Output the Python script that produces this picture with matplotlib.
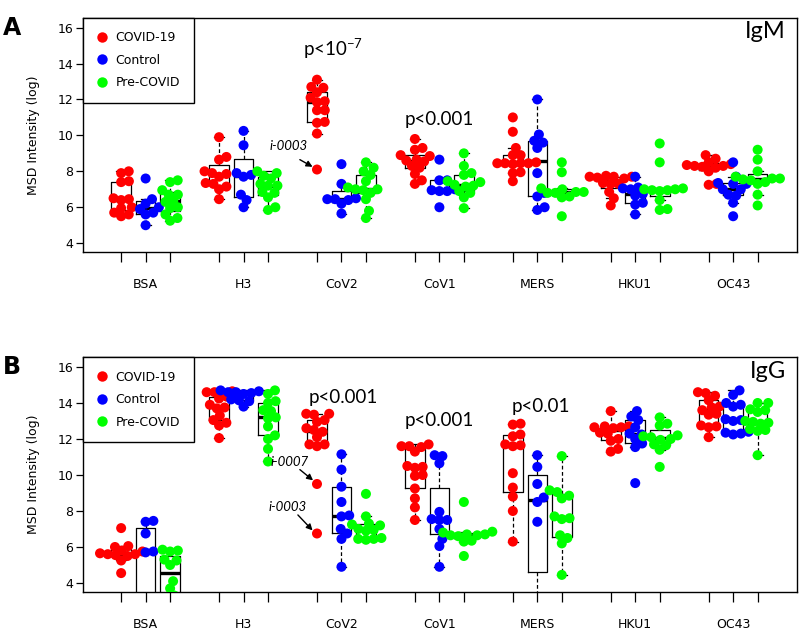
import numpy as np
import matplotlib.pyplot as plt
from matplotlib.lines import Line2D

antigens = ['BSA', 'H3', 'CoV2', 'CoV1', 'MERS', 'HKU1', 'OC43']
groups = ['COVID-19', 'Control', 'Pre-COVID']
colors = ['#ff0000', '#0000ff', '#00ff00']

# IgM values, one list per antigen
igm_covid = [
    [8.0, 7.9, 7.45, 7.4, 6.5, 6.45, 6.4, 6.0, 5.95, 5.7, 5.6, 5.5],
    [9.9, 8.8, 8.65, 8.0, 7.9, 7.85, 7.7, 7.35, 7.3, 7.15, 7.0, 6.45],
    [13.1, 12.7, 12.65, 12.4, 12.1, 11.9, 11.85, 11.4, 11.4, 10.75, 10.7, 10.1, 8.1],
    [9.8, 9.3, 9.2, 8.9, 8.85, 8.65, 8.6, 8.55, 8.3, 8.2, 7.85, 7.5, 7.3],
    [11.0, 10.2, 9.3, 8.9, 8.9, 8.5, 8.45, 8.45, 8.45, 8.45, 8.4, 7.95, 7.9, 7.45],
    [7.75, 7.7, 7.7, 7.7, 7.65, 7.6, 7.35, 7.3, 7.3, 6.85, 6.5, 6.1],
    [8.9, 8.7, 8.5, 8.4, 8.35, 8.3, 8.3, 8.25, 8.2, 8.0, 7.3, 7.25],
]
igm_control = [
    [7.6, 6.45, 6.2, 6.0, 5.9, 5.7, 5.6, 5.0],
    [10.25, 9.45, 7.9, 7.8, 7.7, 6.7, 6.4, 6.0],
    [8.4, 7.3, 6.5, 6.45, 6.45, 6.4, 6.2, 5.65],
    [8.65, 7.5, 7.5, 7.0, 6.95, 6.9, 6.9, 6.0],
    [12.0, 10.05, 9.7, 9.6, 9.3, 7.9, 6.8, 6.6, 6.0, 5.85],
    [7.7, 7.1, 7.05, 7.0, 6.75, 6.65, 6.25, 6.15, 5.6],
    [8.5, 7.7, 7.35, 7.3, 7.3, 7.0, 7.0, 6.7, 6.65, 6.25, 5.5],
]
igm_precovid = [
    [7.5, 7.4, 6.95, 6.7, 6.7, 6.35, 6.3, 6.0, 5.95, 5.6, 5.4, 5.25],
    [8.0, 7.9, 7.75, 7.6, 7.3, 7.2, 7.2, 6.85, 6.8, 6.55, 6.0, 5.85],
    [8.5, 8.2, 8.0, 7.8, 7.45, 7.1, 7.0, 7.0, 6.95, 6.8, 6.45, 5.8, 5.4],
    [9.0, 8.3, 7.9, 7.8, 7.45, 7.4, 7.25, 7.2, 7.15, 6.9, 6.8, 6.55, 5.95],
    [8.5, 7.95, 7.05, 7.0, 6.85, 6.85, 6.8, 6.8, 6.6, 6.55, 5.5],
    [9.55, 8.5, 7.05, 7.0, 7.0, 6.95, 6.95, 6.9, 6.4, 5.9, 5.85],
    [9.2, 8.65, 8.0, 7.7, 7.6, 7.6, 7.55, 7.5, 7.4, 7.3, 6.7, 6.1],
]

# IgG values
igg_covid = [
    [7.05, 6.05, 6.0, 5.8, 5.75, 5.65, 5.6, 5.6, 5.55, 5.5, 5.25, 4.55],
    [14.65, 14.6, 14.6, 14.35, 14.25, 13.9, 13.75, 13.7, 13.3, 13.05, 12.9, 12.75, 12.05],
    [13.4, 13.4, 13.35, 13.05, 12.95, 12.6, 12.5, 12.4, 12.1, 11.7, 11.7, 11.6, 9.5, 6.75],
    [11.7, 11.6, 11.6, 11.55, 11.3, 10.5, 10.45, 10.4, 10.0, 9.95, 9.25, 8.7, 8.2, 7.5],
    [12.85, 12.8, 12.25, 12.15, 11.7, 11.65, 11.6, 10.1, 9.3, 8.8, 8.0, 6.3],
    [13.55, 12.7, 12.7, 12.65, 12.65, 12.6, 12.35, 12.3, 12.0, 11.9, 11.45, 11.3],
    [14.6, 14.55, 14.4, 14.15, 13.8, 13.75, 13.6, 13.4, 13.35, 12.75, 12.7, 12.65, 12.1],
]
igg_control = [
    [7.45, 7.4, 6.75, 5.75, 5.7, 3.2, 2.9, 2.6],
    [14.7, 14.65, 14.6, 14.6, 14.55, 14.5, 14.2, 14.15, 14.1, 13.8],
    [11.15, 10.3, 9.35, 8.5, 7.75, 7.7, 7.0, 6.75, 6.45, 4.9],
    [11.1, 11.05, 10.65, 7.95, 7.55, 7.5, 7.5, 7.0, 6.45, 6.05, 4.9],
    [11.1, 10.45, 9.5, 8.75, 8.5, 7.4, 1.8, 1.5],
    [13.55, 13.25, 13.05, 12.65, 12.3, 12.25, 12.0, 11.75, 11.55, 9.55],
    [14.7, 14.45, 14.0, 13.9, 13.8, 13.1, 13.05, 13.0, 12.4, 12.35, 12.3, 12.25],
]
igg_precovid = [
    [5.85, 5.8, 5.75, 5.3, 5.25, 5.0, 4.1, 3.7, 3.3, 3.0, 2.8, 2.5],
    [14.7, 14.5, 14.1, 14.0, 13.6, 13.55, 13.2, 13.15, 12.7, 12.2, 12.0, 11.45, 10.75],
    [8.95, 7.7, 7.3, 7.25, 7.2, 7.0, 6.95, 6.9, 6.5, 6.45, 6.45, 6.4],
    [8.5, 6.85, 6.8, 6.7, 6.7, 6.65, 6.65, 6.6, 6.35, 6.3, 5.5],
    [11.05, 9.15, 9.05, 8.85, 8.7, 7.7, 7.6, 7.55, 6.65, 6.5, 6.2, 4.45],
    [13.2, 12.85, 12.75, 12.2, 12.15, 12.1, 12.0, 11.95, 11.7, 11.65, 11.4, 10.45],
    [14.0, 14.0, 13.65, 13.6, 13.5, 13.0, 12.95, 12.9, 12.85, 12.55, 12.5, 12.45, 11.1],
]


def fivenum(v):
    # Tukey hinges, like R's boxplot
    x = np.sort(np.asarray(v, float))
    n = len(x)
    n4 = np.floor((n + 3) / 2) / 2
    d = np.array([1, n4, (n + 1) / 2, n + 1 - n4, n]) - 1
    return 0.5 * (x[np.floor(d).astype(int)] + x[np.ceil(d).astype(int)])


def box_stats(v):
    x = np.asarray(v, float)
    mn, q1, med, q3, mx = fivenum(x)
    iqr = q3 - q1
    lo = x[x >= q1 - 1.5 * iqr].min()
    hi = x[x <= q3 + 1.5 * iqr].max()
    return dict(med=med, q1=q1, q3=q3, whislo=lo, whishi=hi, fliers=[])


def swarm(ax, x0, vals, d=7.8):
    # simple beeswarm in pixel space
    pts = ax.transData.transform(np.column_stack([np.full(len(vals), x0), vals]))
    ys = pts[:, 1]
    order = np.argsort(ys, kind='stable')
    placed = []
    off = np.zeros(len(vals))
    for i in order:
        y = ys[i]
        near = [(px, py) for px, py in placed if abs(py - y) < d]
        cands = [0.0]
        for px, py in near:
            dx = np.sqrt(d * d - (py - y) ** 2)
            cands += [px + dx, px - dx]
        cands.sort(key=lambda c: (round(abs(c), 6), -c))
        for c in cands:
            if all((c - px) ** 2 + (y - py) ** 2 >= d * d - 1e-6 for px, py in near):
                off[i] = c
                break
        placed.append((off[i], y))
    ppu = ax.transData.transform((1, 0))[0] - ax.transData.transform((0, 0))[0]
    return x0 + off / ppu


fig = plt.figure(figsize=(8, 6.32), dpi=100)
ann_font = 'Lato'


def panel(rect, data, letter, tag, ptexts, notes):
    ax = fig.add_axes(rect)
    ax.set_xlim(-0.55, 28.6)
    ax.set_ylim(3.5, 16.55)
    positions = []
    for i in range(len(antigens)):
        for k in range(3):
            p = 4 * i + k + 1
            positions.append(p)
            vals = data[k][i]
            ax.bxp([box_stats(vals)], positions=[p], widths=0.8, capwidths=0.4,
                   showfliers=False, manage_ticks=False,
                   boxprops=dict(color='black', lw=0.9),
                   medianprops=dict(color='black', lw=2.4, solid_capstyle='butt'),
                   whiskerprops=dict(color='black', lw=0.9, linestyle=(0, (3, 2))),
                   capprops=dict(color='black', lw=0.9), zorder=2)
    for i in range(len(antigens)):
        for k in range(3):
            vals = data[k][i]
            xs = swarm(ax, 4 * i + k + 1, vals)
            ax.scatter(xs, vals, s=52, color=colors[k], edgecolors='none', zorder=3)
    ax.set_xticks(positions)
    ax.tick_params(axis='x', direction='out', length=7, width=0.9, labelbottom=False)
    ax.set_yticks(range(4, 17, 2))
    ax.tick_params(axis='y', direction='out', length=5, width=0.9, labelsize=9, pad=2)
    for s in ax.spines.values():
        s.set_linewidth(1.0)
    for i, name in enumerate(antigens):
        ax.text(4 * i + 2, -0.14, name, transform=ax.get_xaxis_transform(),
                ha='center', va='center', fontsize=9)
    ax.set_ylabel('MSD Intensity (log)', fontsize=9)
    ax.yaxis.set_label_coords(-0.06, 0.5)
    handles = [Line2D([], [], ls='none', marker='o', ms=7.5, color=c, mec='none') for c in colors]
    leg = ax.legend(handles, groups, loc='upper left', borderaxespad=0, fancybox=False,
                    edgecolor='black', framealpha=1, fontsize=9, handlelength=0.8,
                    handletextpad=0.7, labelspacing=0.75, borderpad=1.1)
    leg.get_frame().set_linewidth(1.0)
    ax.text(0.985, 0.94, tag, transform=ax.transAxes, ha='right', va='center',
            fontsize=17, family=ann_font)
    for x, y, t in ptexts:
        ax.text(x, y, t, ha='center', va='center', fontsize=13.5, family=ann_font)
    for x, y, t, x1, y1, x2, y2 in notes:
        ax.text(x, y, t, ha='center', va='center', fontsize=9.5, style='italic', family=ann_font)
        ax.annotate('', xy=(x2, y2), xytext=(x1, y1),
                    arrowprops=dict(arrowstyle='-|>', color='black', lw=1.0,
                                    mutation_scale=9, shrinkA=0, shrinkB=0))
    fig.text(0.004, rect[1] + rect[3] + 0.003, letter, fontsize=17, fontweight='bold',
             va='top', ha='left')
    return ax


panel([0.104, 0.601, 0.892, 0.371], [igm_covid, igm_control, igm_precovid], 'A', 'IgM',
      [(9.65, 14.85, 'p<10$^{\\mathregular{-7}}$'), (13.98, 10.9, 'p<0.001')],
      [(7.86, 9.42, 'i-0003', 8.3, 8.65, 8.82, 8.25)])

panel([0.104, 0.0633, 0.892, 0.3717], [igg_covid, igg_control, igg_precovid], 'B', 'IgG',
      [(10.06, 14.3, 'p<0.001'), (13.98, 13.0, 'p<0.001'), (18.14, 13.8, 'p<0.01')],
      [(7.9, 10.72, 'i-0007', 8.3, 10.3, 8.84, 9.7),
       (7.78, 8.22, 'i-0003', 8.22, 7.78, 8.82, 6.92)])

fig.savefig('out.png', dpi=100)
